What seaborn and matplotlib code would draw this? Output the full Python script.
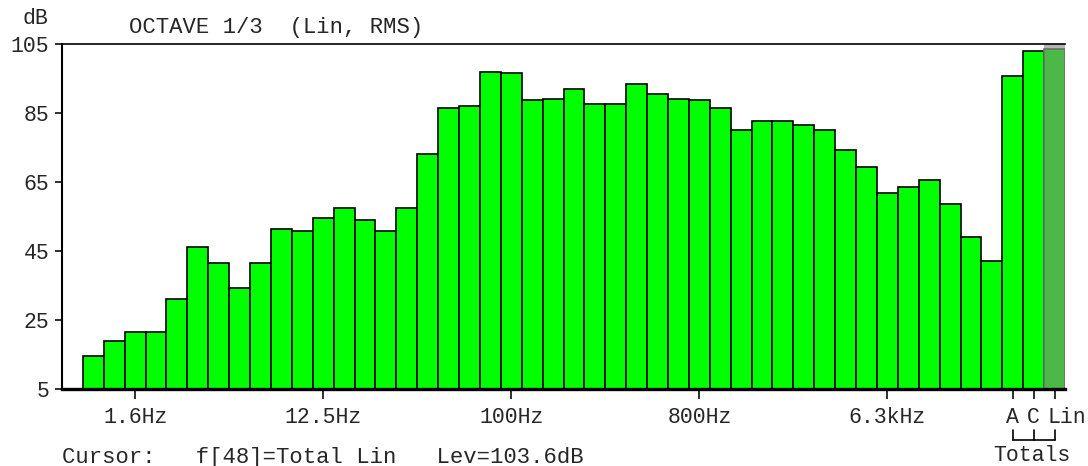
import numpy as np
import pandas as pd
import matplotlib
matplotlib.use("Agg")
import matplotlib.pyplot as plt
import matplotlib.transforms as mtransforms
import seaborn as sns

# -----------------------------
# DATA
# -----------------------------
bands = [
    "0.8Hz", "1Hz", "1.25Hz", "1.6Hz", "2Hz", "2.5Hz", "3.15Hz", "4Hz",
    "5Hz", "6.3Hz", "8Hz", "10Hz", "12.5Hz", "16Hz", "20Hz", "25Hz",
    "31.5Hz", "40Hz", "50Hz", "63Hz", "80Hz", "100Hz", "125Hz", "160Hz",
    "200Hz", "250Hz", "315Hz", "400Hz", "500Hz", "630Hz", "800Hz", "1kHz",
    "1.25kHz", "1.6kHz", "2kHz", "2.5kHz", "3.15kHz", "4kHz", "5kHz",
    "6.3kHz", "8kHz", "10kHz", "12.5kHz", "16kHz", "20kHz",
    "A", "C", "Lin",
]
levels = [
    np.nan, 14.6, 18.9, 21.6, 21.6, 31.1, 46.2, 41.4,
    34.2, 41.4, 51.3, 50.8, 54.6, 57.4, 54.1, 50.8,
    57.4, 73.2, 86.5, 87.0, 97.0, 96.5, 88.7, 89.2,
    92.0, 87.5, 87.5, 93.3, 90.5, 89.2, 88.7, 86.5,
    80.0, 82.6, 82.6, 81.4, 80.0, 74.4, 69.4,
    61.7, 63.6, 65.6, 58.5, 49.1, 42.0,
    95.8, 103.0, 103.6,
]
shown_ticks = ["1.6Hz", "12.5Hz", "100Hz", "800Hz", "6.3kHz", "A", "C", "Lin"]
tick_text = ["1.6Hz", "12.5Hz", "100Hz", "800Hz", "6.3kHz", "A", "C", "Lin"]
yticks = [5, 25, 45, 65, 85, 105]
totals = ["A", "C", "Lin"]
cursor = "Lin"

df = pd.DataFrame({"band": bands, "level": levels})

# -----------------------------
# STYLE
# -----------------------------
sns.set_style("white")
plt.rcParams["font.family"] = ["Liberation Mono", "DejaVu Sans Mono"]
FS = 16
TFS = 15.5

bar_green = "#00ff00"
sel_green = "#4cb848"
palette = {b: bar_green for b in bands}
palette[cursor] = sel_green

fig = plt.figure(figsize=(10.88, 4.66), dpi=100)
ax = fig.add_axes([62 / 1088, 77 / 466, 1003 / 1088, 345 / 466])

ci = bands.index(cursor)
ax.axvspan(ci - 0.5, ci + 0.5, color="#b4b4b4", zorder=0.5, lw=0)

sns.barplot(
    data=df, x="band", y="level", hue="band", order=bands, hue_order=bands,
    palette=palette, legend=False, width=1.0, edgecolor="black",
    linewidth=1.2, saturation=1, ax=ax,
)

for p in ax.patches:
    cx = p.get_x() + p.get_width() / 2
    if abs(cx - ci) < 0.3:
        p.set_edgecolor("#6e6e6e")
    p.set_zorder(2)

ax.set_xlim(-0.5, len(bands) - 0.5)
ax.set_ylim(5, 105)
ax.set_xlabel("")
ax.set_ylabel("")

ax.set_xticks([bands.index(b) for b in shown_ticks])
ax.set_xticklabels(tick_text, fontsize=TFS)
ax.set_yticks(yticks)
ax.set_yticklabels([str(v) for v in yticks], fontsize=TFS)
ax.tick_params(axis="x", direction="out", length=7, width=1.3, pad=6,
               color="#202020", bottom=True)
ax.tick_params(axis="y", direction="out", length=5, width=1.3, pad=4,
               color="#202020", left=True)

# "Lin" label sits just left of its tick, as in the analyser screen
lin_lab = ax.get_xticklabels()[-1]
lin_lab.set_ha("left")
lin_lab.set_transform(lin_lab.get_transform()
                      + mtransforms.ScaledTranslation(-7 / 100, 0, fig.dpi_scale_trans))

for side in ["left", "bottom", "top"]:
    ax.spines[side].set_visible(True)
    ax.spines[side].set_color("black")
ax.spines["left"].set_linewidth(1.5)
ax.spines["bottom"].set_linewidth(2.4)
ax.spines["top"].set_linewidth(1.2)
ax.spines["right"].set_visible(False)
ax.spines["bottom"].set_zorder(3)

# Totals bracket under A / C / Lin
trans = mtransforms.blended_transform_factory(ax.transData, ax.transAxes)
tx = [bands.index(b) for b in totals]
y_top, y_bot = -0.119, -0.148
ax.plot([tx[0], tx[-1]], [y_bot, y_bot], color="black", lw=1.2,
        transform=trans, clip_on=False)
for x in tx:
    ax.plot([x, x], [y_top, y_bot], color="black", lw=1.2,
            transform=trans, clip_on=False)
ax.text(tx[1] - 0.1, -0.192, "Totals", transform=trans, ha="center", va="center",
        fontsize=TFS)

# header / footer text
fig.text(48 / 1088, 1 - 18 / 466, "dB", ha="right", va="center", fontsize=TFS)
fig.text(129 / 1088, 1 - 27 / 466, "OCTAVE 1/3  (Lin, RMS)", ha="left",
         va="center", fontsize=FS)
lev = levels[ci]
fig.text(62 / 1088, 1 - 457 / 466,
         f"Cursor:   f[{ci + 1}]=Total {cursor}   Lev={lev:.1f}dB",
         ha="left", va="center", fontsize=FS)

plt.savefig("out.png", dpi=100)
plt.close()
